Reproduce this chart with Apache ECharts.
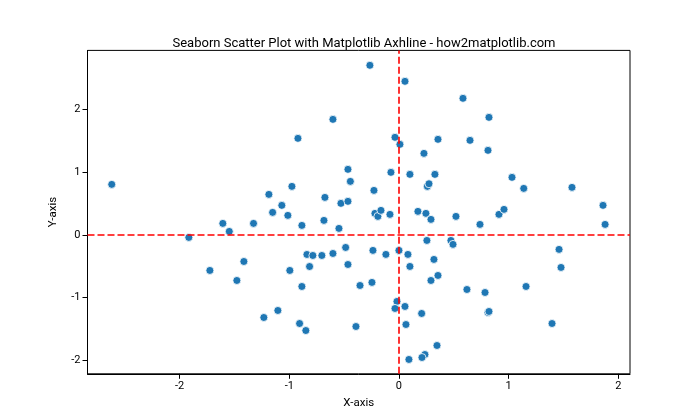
<!DOCTYPE html>
<html><head><meta charset="utf-8">
<script src="https://cdn.jsdelivr.net/npm/echarts@6/dist/echarts.min.js"></script>
<style>html,body{margin:0;padding:0;background:#fff}#c{width:700px;height:420px}</style>
</head><body><div id="c"></div>
<script>
const xValues = [-2.619,-0.921,-0.602,-0.465,-0.443,-0.976,-1.186,-0.675,-0.529,-0.465,-1.068,-1.152,-1.013,-1.606,-1.326,-1.547,-0.885,-0.684,-0.547,-1.916,-0.486,-0.839,-0.785,-0.703,-0.602,-1.414,-0.815,-0.465,-1.724,-0.995,-1.478,-0.885,-0.355,-1.232,-1.104,-0.906,-0.849,-0.392,-0.265,0.055,0.584,0.821,-0.036,0.009,0.356,0.648,0.812,0.228,-0.073,0.100,0.328,1.031,0.259,0.274,-0.228,1.138,1.578,1.861,1.880,-0.219,-0.192,-0.164,-0.082,0.173,0.246,0.292,0.520,0.912,0.958,0.739,0.255,0.474,0.493,1.460,1.478,-0.237,-0.119,0.000,0.082,0.100,0.319,-0.246,0.292,0.356,0.620,0.785,1.159,-0.018,-0.036,0.055,0.207,0.812,0.821,0.064,1.396,0.347,0.237,0.210,0.091];
const yValues = [0.805,1.540,1.843,1.045,0.853,0.773,0.645,0.597,0.502,0.534,0.470,0.358,0.310,0.182,0.182,0.054,0.150,0.230,0.102,-0.042,-0.202,-0.314,-0.330,-0.330,-0.298,-0.426,-0.506,-0.474,-0.569,-0.569,-0.729,-0.825,-0.809,-1.320,-1.208,-1.416,-1.528,-1.464,2.706,2.450,2.179,1.875,1.556,1.444,1.524,1.508,1.348,1.300,0.997,0.965,0.965,0.917,0.773,0.815,0.709,0.741,0.757,0.470,0.166,0.342,0.294,0.390,0.326,0.374,0.342,0.246,0.294,0.326,0.406,0.166,-0.090,-0.090,-0.153,-0.233,-0.521,-0.249,-0.313,-0.249,-0.313,-0.505,-0.393,-0.760,-0.729,-0.649,-0.873,-0.921,-0.825,-1.064,-1.176,-1.144,-1.256,-1.240,-1.224,-1.432,-1.416,-1.767,-1.911,-1.959,-1.990];
const xTicks = [-2,-1,0,1,2];
const yTicks = [-2,-1,0,1,2];
const hLineY = 0;
const vLineX = 0;
const titleText = 'Seaborn Scatter Plot with Matplotlib Axhline - how2matplotlib.com';
const xName = 'X-axis';
const yName = 'Y-axis';

const pts = xValues.map((x,i)=>[x,yValues[i]]);
const FONT = 'Roboto';
const chart = echarts.init(document.getElementById('c'), null, {renderer:'canvas'});
const axisCommon = {
  type:'value',
  axisLine:{show:true,onZero:false,lineStyle:{color:'#000',width:1}},
  axisTick:{show:true,inside:false,length:5,lineStyle:{color:'#000',width:1}},
  axisLabel:{color:'#000',fontFamily:FONT,fontSize:11},
  splitLine:{show:false},
  nameLocation:'middle',
  nameTextStyle:{color:'#000',fontFamily:FONT,fontSize:11.5}
};
chart.setOption({
  animation:false,
  title:{text:titleText,left:359,top:32,textAlign:'center',textStyle:{fontFamily:FONT,fontSize:13,fontWeight:'normal',color:'#000'}},
  grid:{left:87.5,right:70,top:50.4,bottom:46.2,show:true,borderColor:'#000',borderWidth:1,backgroundColor:'transparent'},
  xAxis:Object.assign({},axisCommon,{min:-2.84,max:2.107,name:xName,nameGap:22,
    axisTick:Object.assign({},axisCommon.axisTick,{customValues:xTicks}),
    axisLabel:Object.assign({},axisCommon.axisLabel,{customValues:xTicks,margin:7})}),
  yAxis:Object.assign({},axisCommon,{min:-2.219,max:2.944,name:yName,nameGap:28,
    axisTick:Object.assign({},axisCommon.axisTick,{customValues:yTicks}),
    axisLabel:Object.assign({},axisCommon.axisLabel,{customValues:yTicks,margin:7})}),
  series:[{
    type:'scatter',data:pts,symbolSize:8,
    itemStyle:{color:'#1f77b4',borderColor:'#fff',borderWidth:0.8,opacity:1},
    markLine:{silent:true,symbol:'none',label:{show:false},
      lineStyle:{color:'#ff0000',type:[7,3],width:1.6},
      data:[{yAxis:hLineY},{xAxis:vLineX}]}
  }]
});
</script></body></html>
